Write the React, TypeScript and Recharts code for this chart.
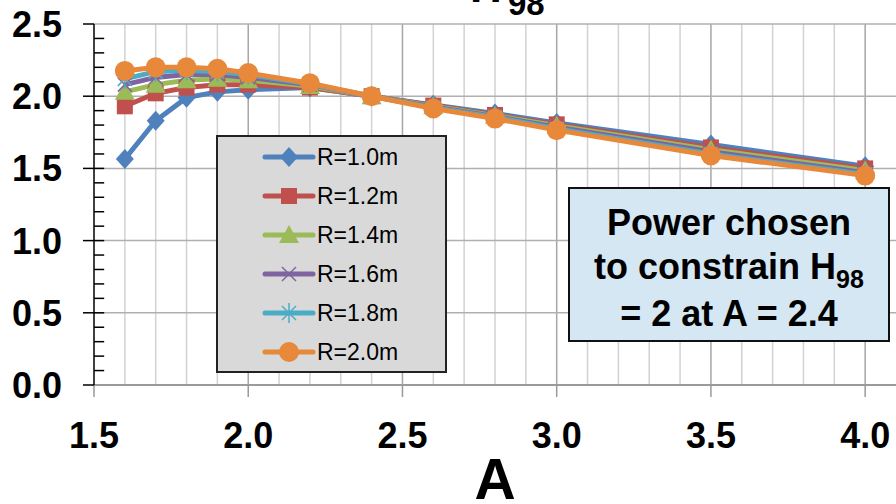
import React from 'react';
import { LineChart, Line, XAxis, YAxis, ReferenceLine } from 'recharts';

const FONT = '"Liberation Sans", Arial, sans-serif';

// aspect ratio A
const aValues = [1.6, 1.7, 1.8, 1.9, 2.0, 2.2, 2.4, 2.6, 2.8, 3.0, 3.5, 4.0];

// H98 for each minor radius R
const r10 = [1.565, 1.83, 1.99, 2.03, 2.045, 2.06, 2.0, 1.94, 1.88, 1.815, 1.665, 1.515];
const r12 = [1.93, 2.02, 2.06, 2.08, 2.08, 2.06, 2.0, 1.935, 1.87, 1.805, 1.645, 1.5];
const r14 = [2.03, 2.08, 2.11, 2.12, 2.11, 2.07, 2.0, 1.93, 1.865, 1.795, 1.63, 1.485];
const r16 = [2.08, 2.13, 2.15, 2.15, 2.13, 2.08, 2.0, 1.925, 1.86, 1.785, 1.615, 1.47];
const r18 = [2.12, 2.17, 2.18, 2.17, 2.15, 2.085, 2.0, 1.92, 1.855, 1.775, 1.6, 1.46];
const r20 = [2.175, 2.2, 2.2, 2.19, 2.16, 2.09, 2.0, 1.915, 1.845, 1.765, 1.59, 1.45];

const xTicks = [1.5, 2.0, 2.5, 3.0, 3.5, 4.0];
const xMinorGrid = [1.6, 1.7, 1.8, 1.9, 2.1, 2.2, 2.3, 2.4, 2.6, 2.7, 2.8, 2.9, 3.1, 3.2, 3.3, 3.4, 3.6, 3.7, 3.8, 3.9];
const yTicks = [0, 0.5, 1.0, 1.5, 2.0, 2.5];
const yMinorTicks = [0.1, 0.2, 0.3, 0.4, 0.5, 0.6, 0.7, 0.8, 0.9, 1.0, 1.1, 1.2, 1.3, 1.4, 1.5, 1.6, 1.7, 1.8, 1.9, 2.0, 2.1, 2.2, 2.3, 2.4];

type Shape = 'diamond' | 'square' | 'triangle' | 'x' | 'star' | 'circle';

const series: { key: string; name: string; color: string; shape: Shape; values: number[] }[] = [
  { key: 'r10', name: 'R=1.0m', color: '#4F81BD', shape: 'diamond', values: r10 },
  { key: 'r12', name: 'R=1.2m', color: '#C0504D', shape: 'square', values: r12 },
  { key: 'r14', name: 'R=1.4m', color: '#9BBB59', shape: 'triangle', values: r14 },
  { key: 'r16', name: 'R=1.6m', color: '#8064A2', shape: 'x', values: r16 },
  { key: 'r18', name: 'R=1.8m', color: '#4BACC6', shape: 'star', values: r18 },
  { key: 'r20', name: 'R=2.0m', color: '#E8883A', shape: 'circle', values: r20 },
];

const data = aValues.map((a, i) => {
  const row: any = { a };
  series.forEach((s) => (row[s.key] = s.values[i]));
  return row;
});

const marker = (shape: Shape, cx: number, cy: number, color: string) => {
  switch (shape) {
    case 'diamond':
      return <polygon points={`${cx},${cy - 10} ${cx + 9},${cy} ${cx},${cy + 10} ${cx - 9},${cy}`} fill={color} />;
    case 'square':
      return <rect x={cx - 8} y={cy - 8} width={16} height={16} fill={color} />;
    case 'triangle':
      return <polygon points={`${cx},${cy - 10} ${cx + 10},${cy + 8} ${cx - 10},${cy + 8}`} fill={color} />;
    case 'x':
      return (
        <g stroke={color} strokeWidth={1.5}>
          <line x1={cx - 7} y1={cy - 7} x2={cx + 7} y2={cy + 7} />
          <line x1={cx - 7} y1={cy + 7} x2={cx + 7} y2={cy - 7} />
        </g>
      );
    case 'star':
      return (
        <g stroke={color} strokeWidth={1.5}>
          <line x1={cx - 7} y1={cy - 7} x2={cx + 7} y2={cy + 7} />
          <line x1={cx - 7} y1={cy + 7} x2={cx + 7} y2={cy - 7} />
          <line x1={cx} y1={cy - 10} x2={cx} y2={cy + 10} />
        </g>
      );
    default:
      return <circle cx={cx} cy={cy} r={10} fill={color} />;
  }
};

const makeDot = (shape: Shape, color: string) => (props: any) => {
  const { cx, cy, index } = props;
  if (cx == null || cy == null) return <g key={index} />;
  return <g key={index}>{marker(shape, cx, cy, color)}</g>;
};

const XTick = ({ x, y, payload }: any) => (
  <text x={x} y={y} dy={49} textAnchor="middle" fontSize={36} fontWeight="bold" fontFamily={FONT} fill="#000">
    {payload.value.toFixed(1)}
  </text>
);

const YTick = ({ y, payload }: any) => (
  <text x={62} y={y} dy={13} textAnchor="end" fontSize={36} fontWeight="bold" fontFamily={FONT} fill="#000">
    {payload.value.toFixed(1)}
  </text>
);

const ALabel = ({ viewBox }: any) => (
  <text x={viewBox.x + viewBox.width / 2} y={499} textAnchor="middle" fontSize={57} fontWeight="bold" fontFamily={FONT} fill="#000">
    A
  </text>
);

export default function App() {
  return (
    <div style={{ position: 'absolute', left: 0, top: 0, width: 896, height: 504, background: '#fff', overflow: 'hidden', fontFamily: FONT }}>
      <LineChart width={896} height={504} data={data} margin={{ top: 24, right: 0, bottom: 59, left: 0 }}>
        <XAxis
          dataKey="a"
          type="number"
          domain={[1.5, 4.1]}
          ticks={xTicks}
          height={60}
          tickSize={12}
          tick={<XTick />}
          axisLine={{ stroke: '#9a9a9a', strokeWidth: 2 }}
          tickLine={{ stroke: '#9a9a9a', strokeWidth: 1.5 }}
          label={<ALabel />}
        />
        <YAxis
          type="number"
          domain={[0, 2.5]}
          ticks={yTicks}
          width={94}
          tickSize={11}
          tick={<YTick />}
          axisLine={{ stroke: '#000', strokeWidth: 1.5 }}
          tickLine={{ stroke: '#000', strokeWidth: 1.5 }}
        />
        {xMinorGrid.map((v) => (
          <ReferenceLine key={`mx${v}`} x={v} stroke="#d2d2d2" strokeWidth={1.5} />
        ))}
        {xTicks.slice(1).map((v) => (
          <ReferenceLine key={`Mx${v}`} x={v} stroke="#a6a6a6" strokeWidth={1.5} />
        ))}
        {yTicks.slice(1).map((v) => (
          <ReferenceLine key={`My${v}`} y={v} stroke="#b0b0b0" strokeWidth={1.5} />
        ))}
        {yMinorTicks.map((v) => (
          <ReferenceLine key={`ty${v}`} segment={[{ x: 1.5, y: v }, { x: 1.533, y: v }]} stroke="#000" strokeWidth={1.5} />
        ))}
        {series.map((s) => (
          <Line
            key={s.key}
            type="linear"
            dataKey={s.key}
            name={s.name}
            stroke={s.color}
            strokeWidth={5}
            dot={makeDot(s.shape, s.color)}
            activeDot={false}
            isAnimationActive={false}
          />
        ))}
      </LineChart>

      {/* title, mostly cropped off the top */}
      <svg width={896} height={40} style={{ position: 'absolute', left: 0, top: 0, pointerEvents: 'none' }}>
        <text x={470} y={2} fontSize={44} fontWeight="bold" fontFamily={FONT} fill="#000">
          H
        </text>
        <text x={508} y={15} fontSize={33} fontWeight="bold" fontFamily={FONT} fill="#000">
          98
        </text>
      </svg>

      {/* legend */}
      <div
        style={{
          position: 'absolute',
          left: 216,
          top: 135,
          width: 231,
          height: 238,
          boxSizing: 'border-box',
          background: '#d9d9d9',
          border: '2px solid #222',
        }}
      >
        {series.map((s, i) => (
          <div key={s.key} style={{ position: 'absolute', left: 0, top: 20 + i * 39 - 14, height: 28, width: 229 }}>
            <svg width={54} height={28} style={{ position: 'absolute', left: 44, top: 0 }}>
              <line x1={3} y1={14} x2={51} y2={14} stroke={s.color} strokeWidth={5} strokeLinecap="round" />
              {marker(s.shape, 27, 14, s.color)}
            </svg>
            <span style={{ position: 'absolute', left: 99, top: 0, lineHeight: '28px', fontSize: 23, color: '#000' }}>{s.name}</span>
          </div>
        ))}
      </div>

      {/* annotation */}
      <div
        style={{
          position: 'absolute',
          left: 568,
          top: 187,
          width: 322,
          height: 155,
          boxSizing: 'border-box',
          background: '#d5e7f3',
          border: '2px solid #111',
          textAlign: 'center',
          fontWeight: 'bold',
          fontSize: 36,
          lineHeight: '44px',
          paddingTop: 12,
          color: '#000',
          whiteSpace: 'nowrap',
        }}
      >
        <div>Power chosen</div>
        <div>
          to constrain H
          <span style={{ fontSize: 25, position: 'relative', top: 9 }}>98</span>
        </div>
        <div>= 2 at A = 2.4</div>
      </div>
    </div>
  );
}
